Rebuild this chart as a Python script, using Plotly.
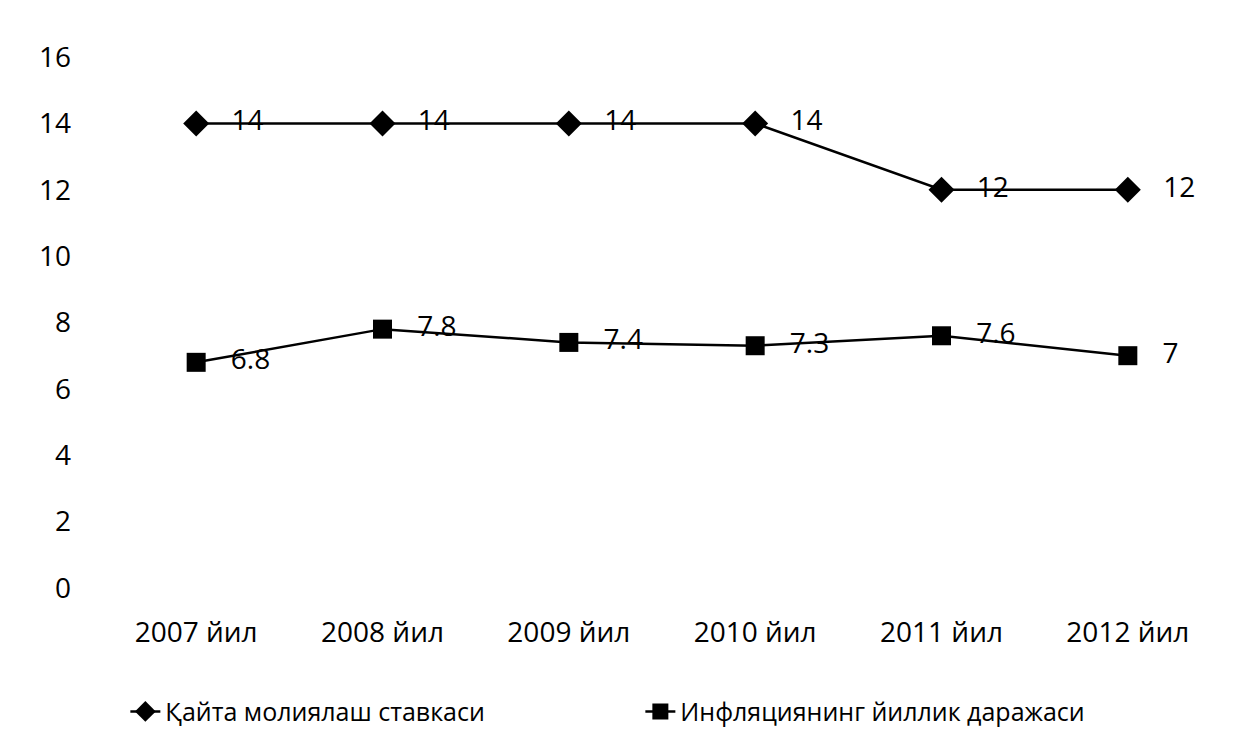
import plotly.graph_objects as go

years = ["2007 йил", "2008 йил", "2009 йил", "2010 йил", "2011 йил", "2012 йил"]
refinancing_rate = [14, 14, 14, 14, 12, 12]
inflation_rate = [6.8, 7.8, 7.4, 7.3, 7.6, 7]
name_refin = "Қайта молиялаш ставкаси"
name_infl = "Инфляциянинг йиллик даражаси"
y_ticks = [0, 2, 4, 6, 8, 10, 12, 14, 16]

FONT = "Open Sans"

fig = go.Figure()
fig.add_trace(go.Scatter(
    x=years, y=refinancing_rate, name=name_refin,
    mode="lines+markers+text",
    texttemplate="   %{y}",
    textposition="middle right",
    textfont=dict(family=FONT, size=28, color="black"),
    line=dict(color="black", width=2.5),
    marker=dict(symbol="diamond", size=20, color="black"),
))
fig.add_trace(go.Scatter(
    x=years, y=inflation_rate, name=name_infl,
    mode="lines+markers+text",
    texttemplate="   %{y}",
    textposition="middle right",
    textfont=dict(family=FONT, size=28, color="black"),
    line=dict(color="black", width=2.5),
    marker=dict(symbol="square", size=19, color="black"),
))

fig.update_layout(
    width=1240, height=743,
    paper_bgcolor="white", plot_bgcolor="white",
    margin=dict(l=95, r=27, t=49, b=163),
    font=dict(family=FONT, size=28, color="black"),
    showlegend=True,
    legend=dict(orientation="h", x=0.02, xanchor="left", y=-0.233, yanchor="middle",
                font=dict(family=FONT, size=25, color="black"),
                entrywidth=470, entrywidthmode="pixels", traceorder="normal"),
)
fig.update_xaxes(type="category", range=[-0.5, 5.5], showgrid=False, zeroline=False,
                 showline=False, ticks="", tickfont=dict(family=FONT, size=28, color="black"),
                 ticklabelstandoff=25)
fig.update_yaxes(range=[0, 16], tickvals=y_ticks, showgrid=False, zeroline=False,
                 showline=False, ticks="", tickfont=dict(family=FONT, size=28, color="black"),
                 ticklabelstandoff=31)

fig.write_html("out.html")
